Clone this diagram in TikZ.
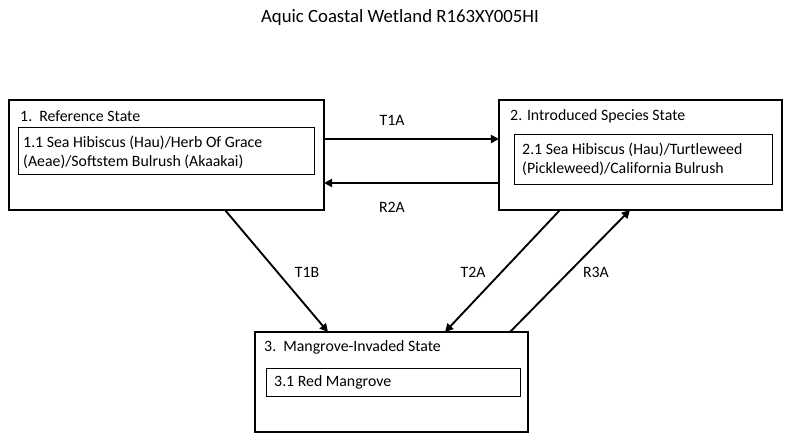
\documentclass[tikz,border=0pt]{standalone}
\usepackage{fontspec}
\setmainfont{Carlito}
\usetikzlibrary{arrows.meta}
\tikzset{state/.style={draw=black, line width=1.6pt, inner sep=0pt},
         comm/.style={draw=black, line width=0.5pt, inner sep=0pt},
         txt/.style={inner sep=0pt, anchor=west, align=left, font=\fontsize{13.5}{16.5}\selectfont},
         lbl/.style={inner sep=0pt, font=\fontsize{13.5}{16}\selectfont},
         arr/.style={line width=1.6pt, -{Triangle[length=7pt,width=7pt]}}}
\begin{document}
\begin{tikzpicture}[x=0.03cm,y=-0.03cm]
      \useasboundingbox (0,0) rectangle (800,442);

      \node[inner sep=0pt, font=\fontsize{16}{18}\selectfont] (title) at (400,18) {Aquic Coastal Wetland R163XY005HI};

      % states
      \node[state, minimum width=9.45cm, minimum height=3.3cm] (s1) at (166.5,155) {};
      \node[state, minimum width=8.49cm, minimum height=3.3cm] (s2) at (640.5,155) {};
      \node[state, minimum width=8.19cm, minimum height=3cm] (s3) at (391.5,382) {};

      \node[txt] (t1) at (20,116) {1.\ \ Reference State};
      \node[txt] (t2) at (510,116) {2. Introduced Species State};
      \node[txt] (t3) at (264,347) {3.\ \ Mangrove-Invaded State};

      % communities
      \node[comm, minimum width=8.88cm, minimum height=1.41cm] (c1) at (166,150.5) {};
      \node[comm, minimum width=7.74cm, minimum height=1.5cm] (c2) at (643,159) {};
      \node[comm, minimum width=7.62cm, minimum height=0.84cm] (c3) at (393,382) {};

      \node[txt] (p1) at (23,152) {1.1 Sea Hibiscus (Hau)/Herb Of Grace\\(Aeae)/Softstem Bulrush (Akaakai)};
      \node[txt] (p2) at (522,159) {2.1 Sea Hibiscus (Hau)/Turtleweed\\(Pickleweed)/California Bulrush};
      \node[txt] (p3) at (274,382) {3.1 Red Mangrove};

      % transitions
      \coordinate (a1) at (324,139);
      \coordinate (a2) at (499,139);
      \coordinate (b1) at (499,183);
      \coordinate (b2) at (324,183);
      \coordinate (d1) at (225,210);
      \coordinate (d2) at (328,332);
      \coordinate (e1) at (560,210);
      \coordinate (e2) at (445,332);
      \coordinate (f1) at (510,332);
      \coordinate (f2) at (630,210);

      \draw[arr] (a1) -- (a2);
      \draw[arr] (b1) -- (b2);
      \draw[arr] (d1) -- (d2);
      \draw[arr] (e1) -- (e2);
      \draw[arr] (f1) -- (f2);

      \node[lbl] (l1) at (392,120) {T1A};
      \node[lbl] (l2) at (392,207) {R2A};
      \node[lbl] (l3) at (307,272) {T1B};
      \node[lbl] (l4) at (473,272) {T2A};
      \node[lbl] (l5) at (596,272) {R3A};
\end{tikzpicture}
\end{document}
